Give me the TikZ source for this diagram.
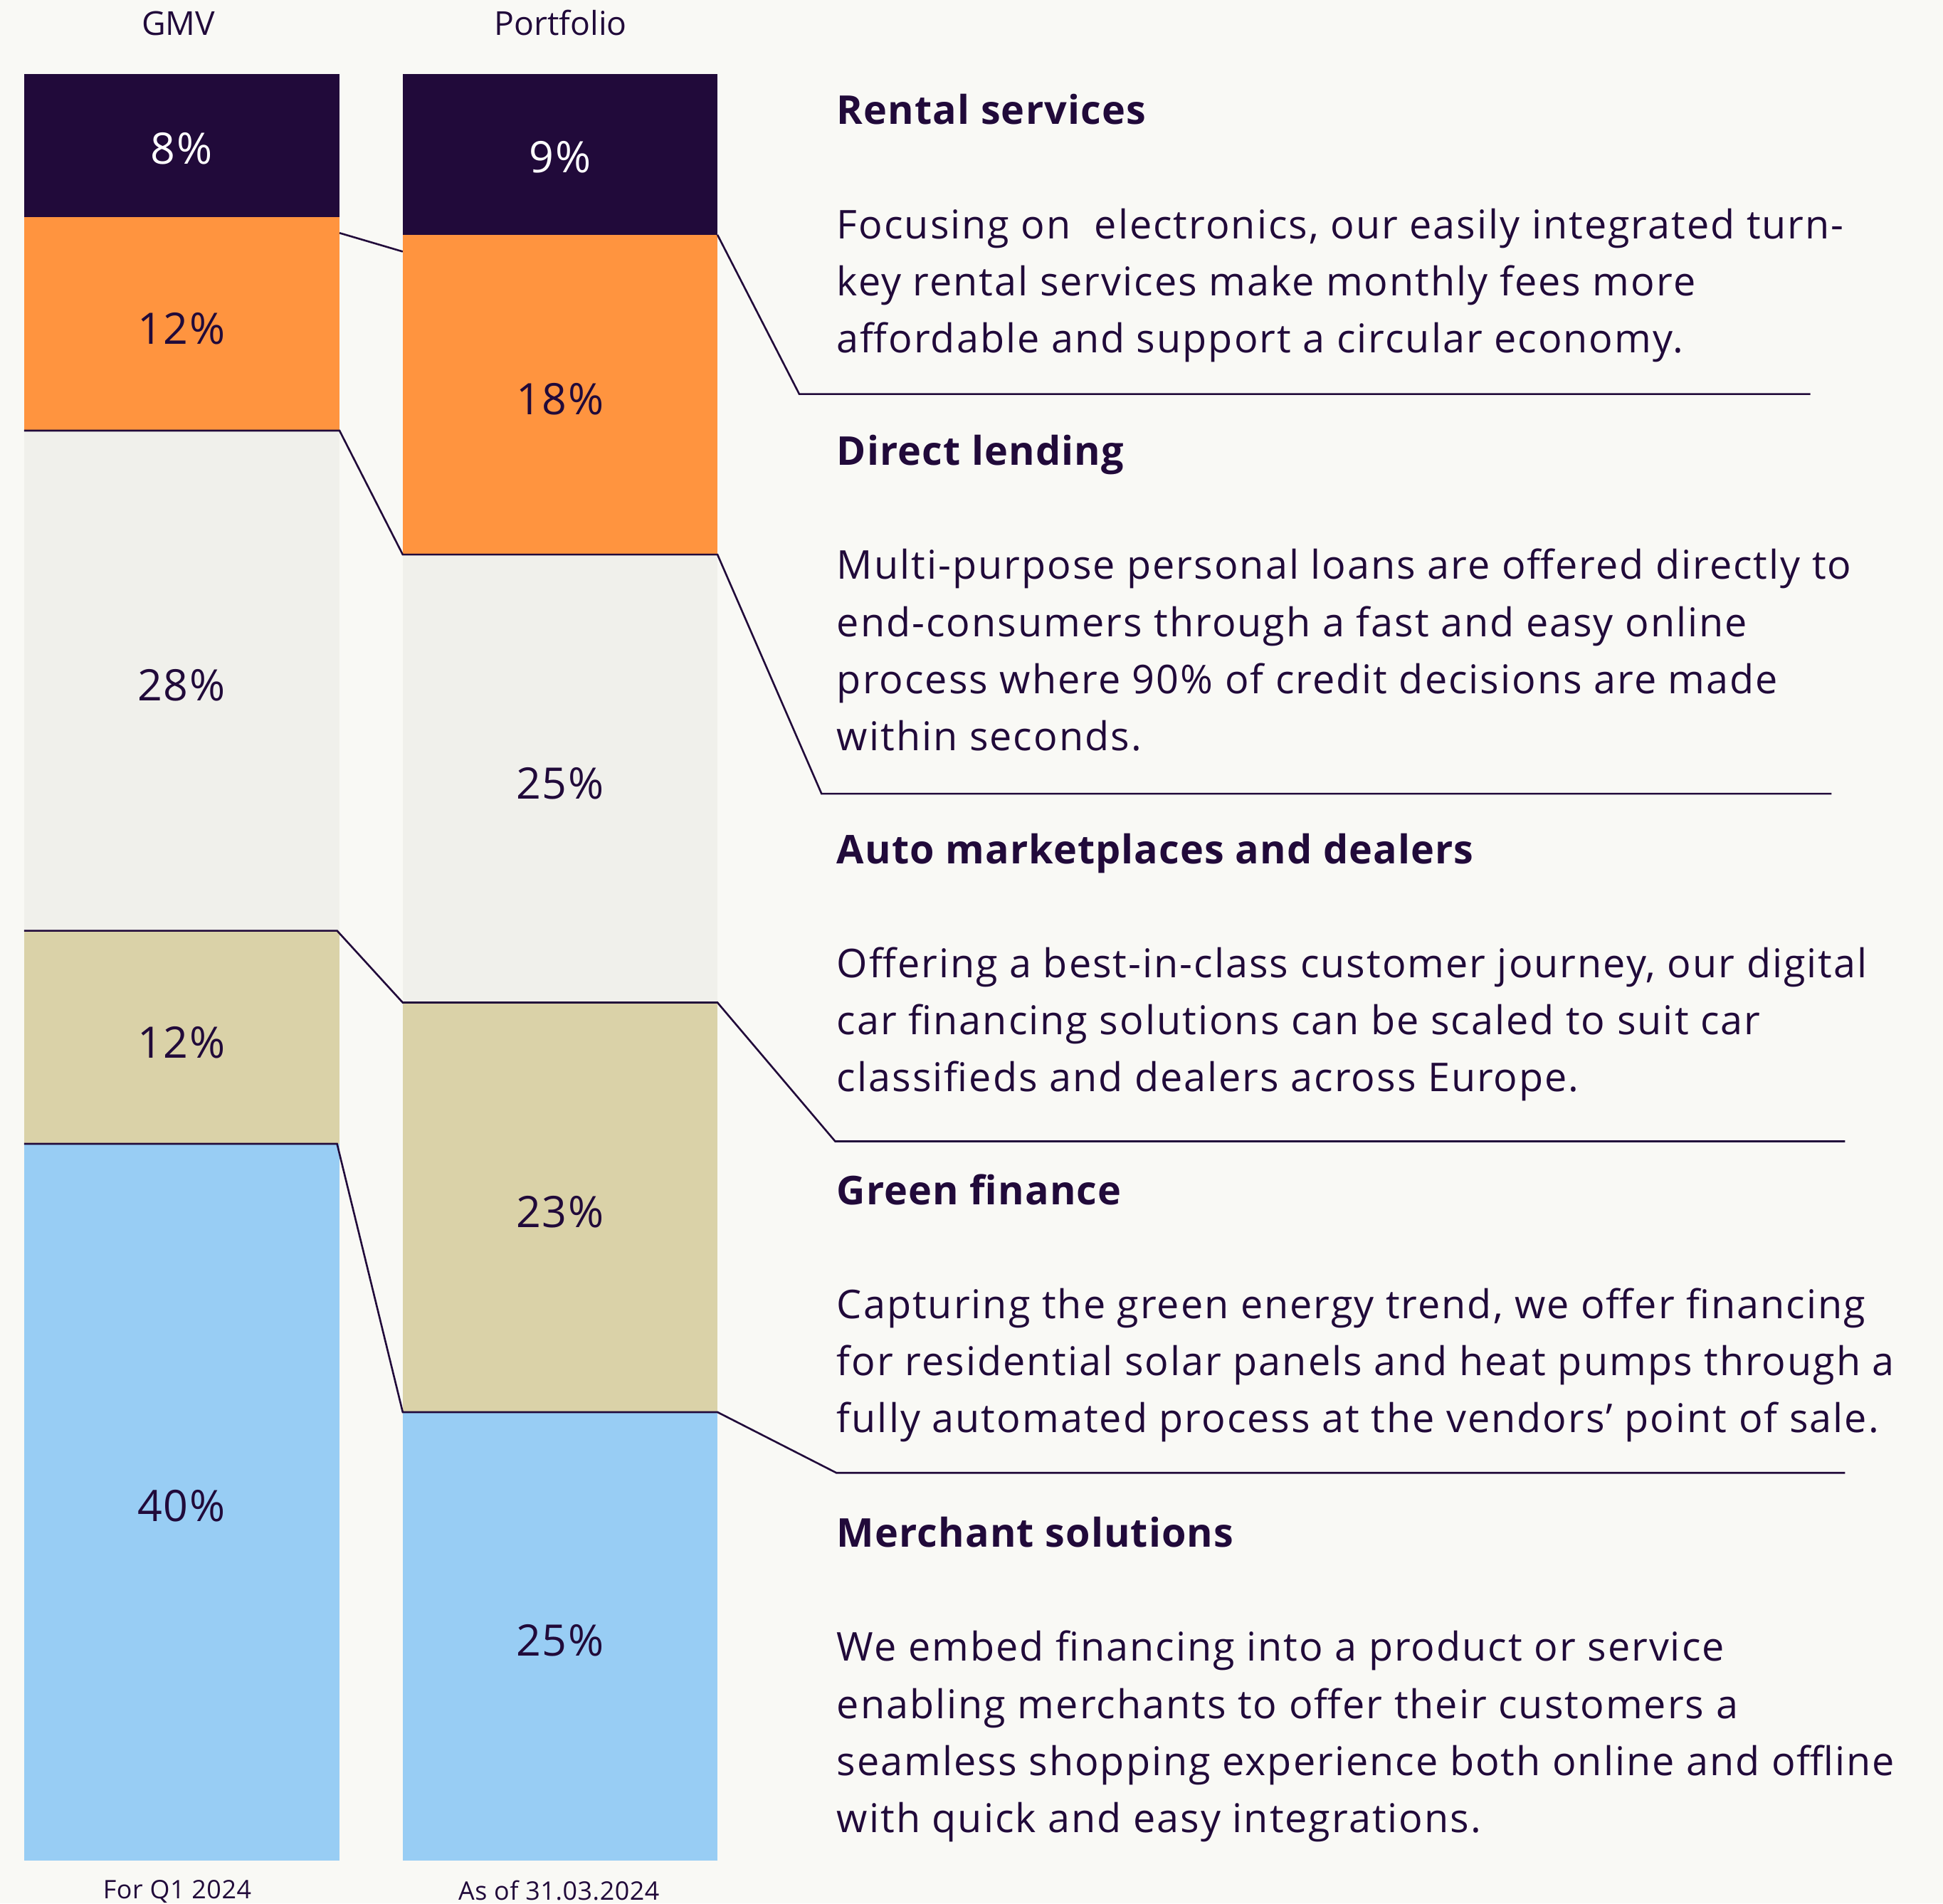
\documentclass[tikz,border=0pt]{standalone}
\usepackage{fontspec}
\setmainfont{Open Sans}
\newfontfamily\fbody{Open Sans}[LetterSpace=3.6]
\newfontfamily\fhead{Open Sans}[LetterSpace=2.0]
\newfontfamily\fpct{Open Sans}[LetterSpace=3.0]
\newfontfamily\fsmall{Open Sans}[LetterSpace=1.5]
\definecolor{bg}{HTML}{F9F9F5}
\definecolor{ink}{HTML}{210A3A}
\definecolor{corange}{HTML}{FF943F}
\definecolor{cgray}{HTML}{F0F0EB}
\definecolor{ctan}{HTML}{DAD2A8}
\definecolor{cblue}{HTML}{98CDF4}
\tikzset{
  pct/.style={font=\fpct\fontsize{17.5}{20}\selectfont, text=ink, inner sep=0pt, anchor=center},
  head/.style={font=\fhead\fontsize{16}{20}\selectfont\bfseries, text=ink, inner sep=0pt, anchor=base west},
  body/.style={font=\fbody\fontsize{16}{20}\selectfont, text=ink, inner sep=0pt, anchor=base west},
  toplbl/.style={font=\fontsize{13.3}{16}\selectfont, text=ink, inner sep=0pt, anchor=base},
  botlbl/.style={font=\fsmall\fontsize{10.3}{12}\selectfont, text=ink, inner sep=0pt, anchor=base},
  conn/.style={draw=ink, line width=0.75pt, line join=miter},
}
\newcommand\mkline[3]{\node[body] (#1) at (675,#2) {#3};}
\begin{document}
\begin{tikzpicture}[x=0.5pt,y=-0.5pt]
\useasboundingbox[fill=bg] (0,0) rectangle (1568,1536);
% GMV bar
\fill[ink]     (19.5,59.7)  rectangle (274,175.2);
\fill[corange] (19.5,175.2) rectangle (274,347.5);
\fill[cgray]   (19.5,347.5) rectangle (274,751);
\fill[ctan]    (19.5,751)   rectangle (274,923);
\fill[cblue]   (19.5,923)   rectangle (274,1501.5);
% Portfolio bar
\fill[ink]     (325,59.7)   rectangle (579,189.5);
\fill[corange] (325,189.5)  rectangle (579,447.5);
\fill[cgray]   (325,447.5)  rectangle (579,809);
\fill[ctan]    (325,809)    rectangle (579,1139.5);
\fill[cblue]   (325,1139.5) rectangle (579,1501.5);
% coordinates
\coordinate (a1) at (274,188);   \coordinate (a2) at (325,203);
\coordinate (b1) at (579,189.5); \coordinate (b2) at (645,318);    \coordinate (b3) at (1461,318);
\coordinate (c0) at (19.5,347.5);\coordinate (c1) at (274,347.5);  \coordinate (c2) at (325,447.5);
\coordinate (c3) at (579,447.5); \coordinate (c4) at (663,640.5);  \coordinate (c5) at (1478,640.5);
\coordinate (d0) at (19.5,751);  \coordinate (d1) at (272,751);    \coordinate (d2) at (325,809);
\coordinate (d3) at (579,809);   \coordinate (d4) at (674,921);    \coordinate (d5) at (1489,921);
\coordinate (e0) at (19.5,923);  \coordinate (e1) at (272,923);    \coordinate (e2) at (325,1139.5);
\coordinate (e3) at (579,1139.5);\coordinate (e4) at (675,1188.5); \coordinate (e5) at (1489,1188.5);
% connectors
\draw[conn] (a1) -- (a2);
\draw[conn] (b1) -- (b2) -- (b3);
\draw[conn] (c0) -- (c1) -- (c2) -- (c3) -- (c4) -- (c5);
\draw[conn] (d0) -- (d1) -- (d2) -- (d3) -- (d4) -- (d5);
\draw[conn] (e0) -- (e1) -- (e2) -- (e3) -- (e4) -- (e5);
% percentages
\node[pct, text=white] (pg1) at (146.5,120) {8\%};
\node[pct] (pg2) at (146.5,265) {12\%};
\node[pct] (pg3) at (146.5,553) {28\%};
\node[pct] (pg4) at (146.5,841) {12\%};
\node[pct] (pg5) at (146.5,1215) {40\%};
\node[pct, text=white] (pp1) at (452,127) {9\%};
\node[pct] (pp2) at (452,322) {18\%};
\node[pct] (pp3) at (452,632) {25\%};
\node[pct] (pp4) at (452,978) {23\%};
\node[pct] (pp5) at (452,1324) {25\%};
% column labels
\node[toplbl] (tg) at (144,28.7) {GMV};
\node[toplbl] (tp) at (452.5,28.7) {Portfolio};
\node[botlbl] (bg1) at (143,1532) {For Q1 2024};
\node[botlbl] (bp1) at (451,1533.5) {As of 31.03.2024};
% Rental services
\node[head] (h1) at (675,100.5) {Rental services};
\mkline{r1}{192.5}{Focusing on \ electronics, our easily integrated turn-}
\mkline{r2}{238.5}{key rental services make monthly fees more}
\mkline{r3}{284.5}{affordable and support a circular economy.}
% Direct lending
\node[head] (h2) at (675,375.5) {Direct lending};
\mkline{s1}{467.5}{Multi-purpose personal loans are offered directly to}
\mkline{s2}{513.5}{end-consumers through a fast and easy online}
\mkline{s3}{559.5}{process where 90\% of credit decisions are made}
\mkline{s4}{605.5}{within seconds.}
% Auto
\node[head] (h3) at (675,697) {Auto marketplaces and dealers};
\mkline{t1}{789}{Offering a best-in-class customer journey, our digital}
\mkline{t2}{835}{car financing solutions can be scaled to suit car}
\mkline{t3}{881}{classifieds and dealers across Europe.}
% Green
\node[head] (h4) at (675,972) {Green finance};
\mkline{u1}{1064}{Capturing the green energy trend, we offer financing}
\mkline{u2}{1110}{for residential solar panels and heat pumps through a}
\mkline{u3}{1156}{fully automated process at the vendors’ point of sale.}
% Merchant
\node[head] (h5) at (675,1248.5) {Merchant solutions};
\mkline{v1}{1340.5}{We embed financing into a product or service}
\mkline{v2}{1386.5}{enabling merchants to offer their customers a}
\mkline{v3}{1432.5}{seamless shopping experience both online and offline}
\mkline{v4}{1478.5}{with quick and easy integrations.}
\end{tikzpicture}
\end{document}
